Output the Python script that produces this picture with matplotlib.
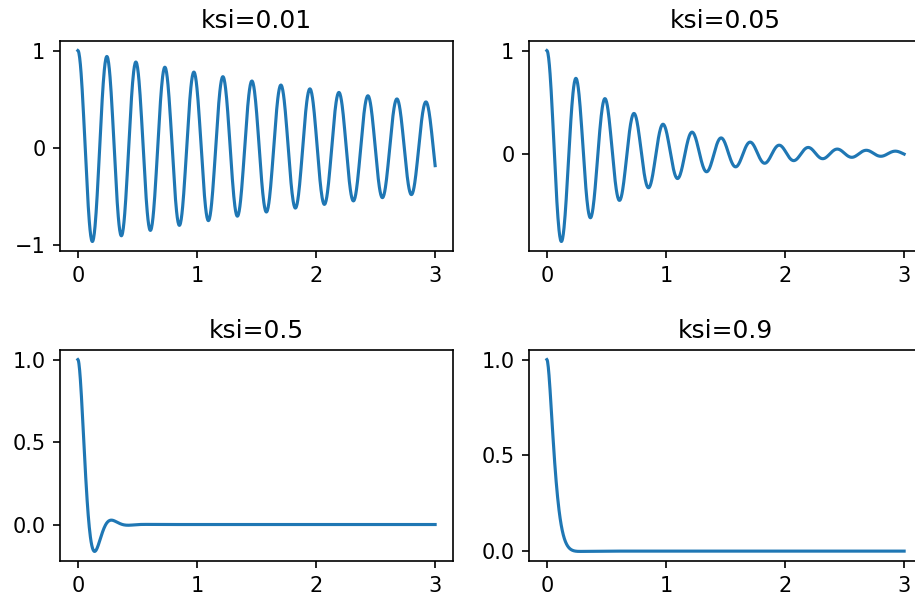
import numpy as np
import matplotlib
matplotlib.use('Agg')
import matplotlib.pyplot as plt

# damping ratios shown in the titles
ksi_values = [0.01, 0.05, 0.5, 0.9]
titles = ['ksi=0.01', 'ksi=0.05', 'ksi=0.5', 'ksi=0.9']
# y ticks as shown in each panel
yticks = [[-1, 0, 1], [0, 1], [0, 0.5, 1.0], [0, 0.5, 1.0]]
xticks = [0, 1, 2, 3]
# natural frequency (~0.243 s)
wn = 25.8
t_start, t_end, n_pts = 0.0, 3.0, 1000

t = np.linspace(t_start, t_end, n_pts)

# free response x(0)=1, v(0)=0 of a damped oscillator
def free_response(t, ksi, wn):
    wd = wn*np.sqrt(1-ksi**2)
    return np.exp(-ksi*wn*t)*(np.cos(wd*t) + ksi/np.sqrt(1-ksi**2)*np.sin(wd*t))

fig = plt.figure(figsize=(915/150, 602/150), dpi=150)

W, H = 915., 602.
# axes boxes in pixels (left, top, right, bottom), right column is cut by the figure edge
boxes = [(60, 41, 453, 251), (529, 41, 922, 251),
         (60, 350, 453, 561), (529, 350, 922, 561)]

for ksi, title, yt, (l, tp, r, b) in zip(ksi_values, titles, yticks, boxes):
    ax = fig.add_axes([l/W, 1-b/H, (r-l)/W, (b-tp)/H])
    ax.plot(t, free_response(t, ksi, wn))
    ax.set_title(title)
    ax.set_xticks(xticks)
    ax.set_yticks(yt)

fig.savefig('out.png', dpi=150)
